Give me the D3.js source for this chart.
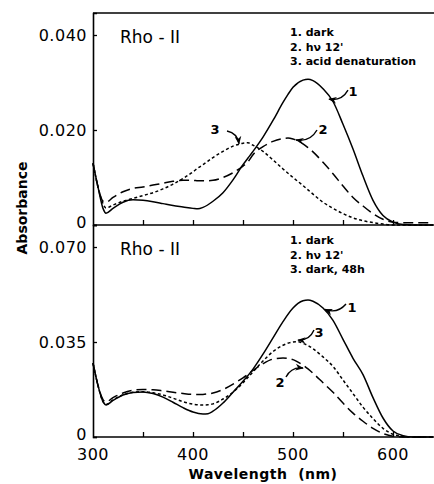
<!DOCTYPE html>
<html><head><meta charset="utf-8">
<script src="https://cdn.jsdelivr.net/npm/d3@7"></script>
<style>
body{margin:0;background:#fff;}
svg{display:block;}
text{font-family:"DejaVu Sans",sans-serif;fill:#000;}
</style></head>
<body><svg id="c" width="434" height="484"></svg>
<script>
// ---- data ----
const wlTop = [300,305,310,313,320,330,340,350,360,370,380,390,400,405,410,420,430,440,450,455,460,470,480,490,495,500,510,515,520,530,540,550,560,570,580,590,600,610,620,630,640];
const topDark =  [0.0130,0.0080,0.0035,0.0025,0.0035,0.0048,0.0053,0.0052,0.0049,0.0045,0.0041,0.0038,0.0035,0.0034,0.0037,0.0050,0.0068,0.0095,0.0127,0.0141,0.0155,0.0185,0.0220,0.0258,0.0275,0.0290,0.0305,0.0307,0.0304,0.0287,0.0260,0.0212,0.0160,0.0103,0.0052,0.0020,0.0006,0.0001,0.0,0.0,0.0];
const topHv =    [0.0130,0.0080,0.0050,0.0048,0.0058,0.0070,0.0077,0.0080,0.0084,0.0088,0.0092,0.0094,0.0094,0.0093,0.0093,0.0094,0.0100,0.0110,0.0124,0.0133,0.0148,0.0165,0.0176,0.0182,0.0183,0.0181,0.0171,0.0163,0.0154,0.0132,0.0108,0.0082,0.0058,0.0040,0.0024,0.0012,0.0006,0.0005,0.0005,0.0005,0.0005];
const topAcid =  [0.0130,0.0080,0.0045,0.0036,0.0042,0.0050,0.0056,0.0062,0.0068,0.0076,0.0086,0.0098,0.0112,0.0120,0.0127,0.0142,0.0155,0.0166,0.0172,0.0173,0.0168,0.0155,0.0137,0.0118,0.0109,0.0100,0.0083,0.0074,0.0065,0.0048,0.0035,0.0024,0.0015,0.0009,0.0005,0.0002,0.0,0.0,0.0,0.0,0.0];

const wlBot = [300,305,310,313,320,330,340,350,360,370,380,390,400,410,415,420,430,440,450,460,470,480,490,500,505,510,515,520,530,540,550,560,570,580,590,600,610,620,630,640];
const botDark =  [0.0272,0.0190,0.0130,0.0118,0.0135,0.0155,0.0164,0.0166,0.0160,0.0147,0.0128,0.0108,0.0092,0.0085,0.0086,0.0095,0.0125,0.0165,0.0205,0.0250,0.0305,0.0365,0.0425,0.0475,0.0492,0.0502,0.0505,0.0500,0.0475,0.0430,0.0360,0.0290,0.0230,0.0145,0.0070,0.0022,0.0005,0.0,0.0,0.0];
const botHv =    [0.0272,0.0190,0.0138,0.0129,0.0145,0.0162,0.0172,0.0175,0.0174,0.0170,0.0165,0.0160,0.0157,0.0157,0.0159,0.0162,0.0175,0.0195,0.0218,0.0245,0.0270,0.0287,0.0291,0.0285,0.0276,0.0265,0.0251,0.0235,0.0200,0.0165,0.0125,0.0088,0.0058,0.0032,0.0013,0.0003,0.0,0.0,0.0,0.0];
const botDark48 =[0.0272,0.0190,0.0130,0.0120,0.0137,0.0155,0.0165,0.0167,0.0163,0.0155,0.0143,0.0130,0.0121,0.0118,0.0119,0.0122,0.0140,0.0165,0.0200,0.0240,0.0280,0.0315,0.0338,0.0350,0.0351,0.0345,0.0337,0.0325,0.0295,0.0260,0.0210,0.0160,0.0110,0.0068,0.0032,0.0010,0.0002,0.0,0.0,0.0];

const xTicks = [300,400,500,600];
const xMinor = [350,400,450,500,550,600];
const topYTicks = [0,0.020,0.040];
const topYLabels = ["0","0.020","0.040"];
const botYTicks = [0,0.035,0.070];
const botYLabels = ["0","0.035","0.070"];
const topLegend = ["1. dark","2. h\u03bd 12'","3. acid denaturation"];
const botLegend = ["1. dark","2. h\u03bd 12'","3. dark, 48h"];
// annotations: [label, labelX, labelY, arrowFromX, arrowFromY, arrowToX, arrowToY]
const topNotes = [["1",560,0.0282,555,0.0284,536,0.0265],["2",530,0.0202,524,0.0200,503,0.0179],["3",422,0.0202,434,0.0198,446,0.0171]];
const botNotes = [["1",559,0.0479,553,0.0490,532,0.0470],["3",526,0.0386,521,0.0394,505,0.0357],["2",487,0.0203,493,0.0221,510,0.0254]];

// ---- drawing ----
const svg = d3.select("#c");
const x = d3.scaleLinear().domain([300,641]).range([93,434]);
const yTop = d3.scaleLinear().domain([0,0.04463]).range([225,13]);
const yBot = d3.scaleLinear().domain([0,0.07811]).range([437,225]);

const defs = svg.append("defs");
defs.append("marker").attr("id","ah").attr("viewBox","0 0 10 10").attr("refX",9).attr("refY",5)
  .attr("markerWidth",6).attr("markerHeight",6).attr("orient","auto")
  .append("path").attr("d","M0,1 L10,5 L0,9 L3,5 Z").attr("fill","#000");

function panel(y, wl, series, yTicks, yLabels, legend, notes, legendY) {
  const g = svg.append("g");
  g.append("g").attr("transform",`translate(0,${y.range()[0]})`)
    .call(d3.axisBottom(x).tickValues(xMinor).tickSize(-5).tickFormat(""))
    .call(a=>{a.select(".domain").attr("stroke-width",1.6).attr("d",`M93,0H434`); a.selectAll("line").attr("stroke-width",1.3);});
  g.append("g").attr("transform","translate(93,0)")
    .call(d3.axisLeft(y).tickValues(yTicks).tickSize(-4).tickFormat(""))
    .call(a=>{a.select(".domain").attr("stroke-width",1.6); a.selectAll("line").attr("stroke-width",1.3);});
  g.selectAll("text.yl").data(yTicks).join("text").attr("class","yl")
    .attr("x",87).attr("y",d=>y(d)).attr("dy",d=>d===0?"0.2em":"0.36em").attr("text-anchor","end")
    .attr("font-size",16).attr("letter-spacing","0.5px").text((d,i)=>yLabels[i]);
  const line = d3.line().x((d,i)=>x(wl[i])).y(d=>y(d)).curve(d3.curveMonotoneX);
  const styles = [null,"10,5","3,2.5"];
  series.forEach((s,k)=>{
    g.append("path").attr("d",line(s)).attr("fill","none").attr("stroke","#000")
      .attr("stroke-width",1.5).attr("stroke-dasharray",styles[k]);
  });
  g.append("text").attr("x",120).attr("y",y.range()[1]+30).attr("font-size",17).text("Rho - II");
  legend.forEach((t,i)=>{
    g.append("text").attr("x",290).attr("y",legendY+i*14.5).attr("font-size",11).attr("font-weight","bold").text(t);
  });
  notes.forEach(n=>{
    const x0=x(n[3]),y0=y(n[4]),x1=x(n[5]),y1=y(n[6]);
    const mx=(x0+x1)/2, my=(y0+y1)/2;
    const dx=x1-x0, dy=y1-y0;
    const cx=mx+dy*0.35, cy=my-dx*0.35;
    g.append("path").attr("d",`M${x0},${y0}Q${cx},${cy} ${x1},${y1}`).attr("fill","none")
      .attr("stroke","#000").attr("stroke-width",1.4).attr("marker-end","url(#ah)");
    g.append("text").attr("x",x(n[1])).attr("y",y(n[2])).attr("dy","0.36em").attr("font-size",13)
      .attr("font-weight","bold").attr("text-anchor","middle").text(n[0]);
  });
}
panel(yTop, wlTop, [topDark,topHv,topAcid], topYTicks, topYLabels, topLegend, topNotes, 36);
panel(yBot, wlBot, [botDark,botHv,botDark48], botYTicks, botYLabels, botLegend, botNotes, 244);

svg.append("line").attr("x1",93).attr("x2",434).attr("y1",13).attr("y2",13).attr("stroke","#000").attr("stroke-width",1.6);
svg.selectAll("text.xl").data(xTicks).join("text").attr("class","xl")
  .attr("x",d=>x(d)).attr("y",460).attr("text-anchor","middle").attr("font-size",16).attr("letter-spacing","0.5px").text(d=>d);
svg.append("text").attr("x",263).attr("y",479).attr("text-anchor","middle").attr("font-size",14)
  .attr("font-weight","bold").attr("letter-spacing","0.5px").attr("xml:space","preserve").text("Wavelength  (nm)");
svg.append("text").attr("transform","translate(27,208) rotate(-90)").attr("text-anchor","middle")
  .attr("font-size",14).attr("font-weight","bold").text("Absorbance");
</script></body></html>
